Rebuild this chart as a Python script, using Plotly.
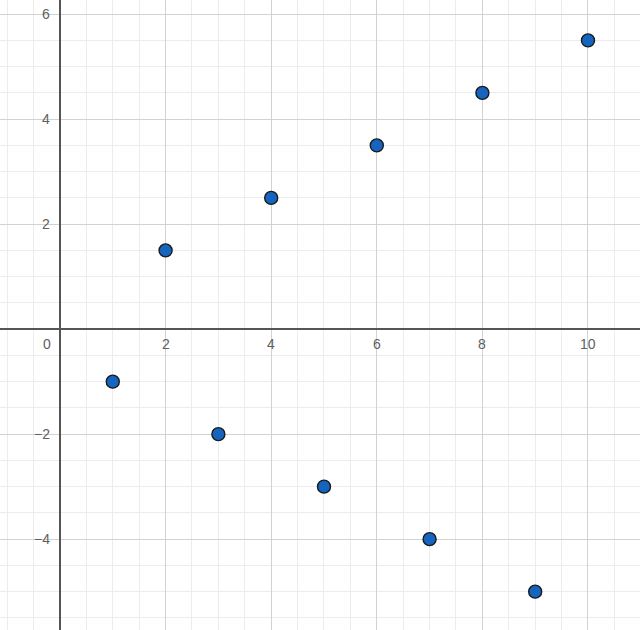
import plotly.graph_objects as go

x_vals = [1, 2, 3, 4, 5, 6, 7, 8, 9, 10]
y_vals = [-1, 1.5, -2, 2.5, -3, 3.5, -4, 4.5, -5, 5.5]
x_ticks = [2, 4, 6, 8, 10]
y_ticks = [-4, -2, 2, 4, 6]

def lab(v):
    return str(v).replace("-", "\u2212")

fig = go.Figure()
fig.add_trace(go.Scatter(
    x=x_vals, y=y_vals, mode="markers",
    marker=dict(size=13, color="#1565c0", line=dict(color="#1a1a1a", width=1.4)),
    hoverinfo="skip", showlegend=False,
))

ann = []
tick_font = dict(family="Liberation Sans, Arial, sans-serif", size=14, color="#606060")
for v in x_ticks:
    ann.append(dict(x=v, y=0, text=lab(v), showarrow=False, xanchor="center", yanchor="middle",
                    yshift=-15, font=tick_font))
ann.append(dict(x=0, y=0, text="0", showarrow=False, xanchor="right", yanchor="middle",
                xshift=-7, yshift=-15, font=tick_font))
for v in y_ticks:
    ann.append(dict(x=0, y=v, text=lab(v), showarrow=False, xanchor="right", yanchor="middle",
                    xshift=-8, font=tick_font))

axis_common = dict(
    showticklabels=False, ticks="", showline=False,
    zeroline=True, zerolinecolor="#555555", zerolinewidth=1.6,
    showgrid=True, gridcolor="#d2d2d2", gridwidth=1,
    minor=dict(dtick=0.5, showgrid=True, gridcolor="#ececec", gridwidth=1),
    dtick=2, tick0=0, fixedrange=True,
)

fig.update_layout(
    width=640, height=630,
    margin=dict(l=0, r=0, t=0, b=0),
    paper_bgcolor="white", plot_bgcolor="white",
    xaxis=dict(range=[-1.136, 10.985], **axis_common),
    yaxis=dict(range=[-5.73, 6.27], **axis_common),
    annotations=ann,
)

fig.write_html("out.html", config={"displayModeBar": False},
               post_script="document.body.style.margin='0';document.body.style.overflow='hidden';")
